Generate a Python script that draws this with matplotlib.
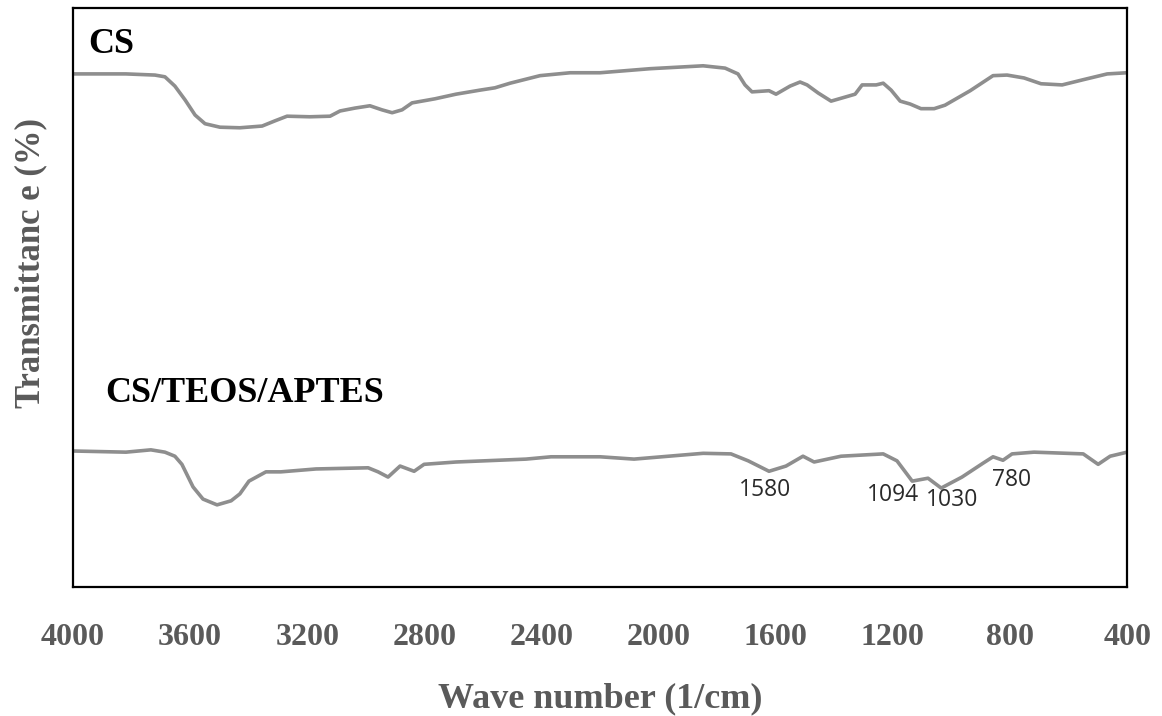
import matplotlib
matplotlib.use("Agg")
import matplotlib.pyplot as plt

# FTIR spectra (wavenumber in 1/cm, transmittance in arbitrary %)
cs_wn = [4000, 3819, 3720, 3686, 3652, 3617, 3583, 3549, 3498, 3430, 3354, 3310, 3269,
         3191, 3122, 3088, 3037, 2986, 2945, 2910, 2876, 2842, 2764, 2692, 2610, 2559,
         2507, 2405, 2302, 2200, 2029, 1848, 1773, 1729, 1705, 1681, 1623, 1599, 1551,
         1517, 1493, 1455, 1411, 1363, 1329, 1305, 1257, 1233, 1206, 1175, 1141, 1104,
         1059, 1022, 936, 858, 810, 752, 694, 622, 550, 468, 400]
cs_t = [88.6, 88.6, 88.4, 88.1, 86.5, 84.1, 81.5, 80.0, 79.4, 79.3, 79.6, 80.5, 81.3,
        81.2, 81.3, 82.2, 82.7, 83.1, 82.4, 81.9, 82.4, 83.6, 84.3, 85.1, 85.8, 86.2,
        87.0, 88.3, 88.8, 88.8, 89.5, 90.0, 89.6, 88.6, 86.7, 85.5, 85.7, 85.1, 86.5,
        87.2, 86.7, 85.3, 83.9, 84.6, 85.1, 86.7, 86.7, 87.0, 85.8, 83.9, 83.4, 82.6,
        82.6, 83.2, 85.7, 88.3, 88.4, 87.9, 86.9, 86.7, 87.6, 88.6, 88.8]

mix_wn = [4000, 3819, 3734, 3686, 3652, 3628, 3590, 3556, 3508, 3460, 3430, 3399, 3341,
          3290, 3170, 2992, 2958, 2924, 2883, 2835, 2801, 2692, 2453, 2367, 2200, 2084,
          1848, 1753, 1694, 1623, 1565, 1507, 1469, 1377, 1233, 1186, 1134, 1080, 1035,
          964, 892, 858, 824, 793, 718, 550, 499, 458, 400]
mix_t = [23.5, 23.3, 23.7, 23.3, 22.6, 21.2, 17.3, 15.2, 14.2, 14.9, 16.1, 18.3, 19.9,
         19.9, 20.4, 20.6, 19.9, 19.0, 20.9, 20.0, 21.2, 21.6, 22.1, 22.5, 22.5, 22.1,
         23.1, 23.0, 21.8, 20.0, 20.9, 22.6, 21.6, 22.6, 23.0, 21.8, 18.3, 18.8, 17.1,
         19.0, 21.4, 22.5, 21.9, 23.0, 23.3, 23.0, 21.2, 22.6, 23.3]

peak_labels = ["1580", "1094", "1030", "780"]
peak_pos = [(1636, 16.8), (1199, 15.9), (998, 15.0), (793, 18.5)]

xticks = [4000, 3600, 3200, 2800, 2400, 2000, 1600, 1200, 800, 400]

serif = "Liberation Serif"
gray = "#5a5a5a"
line_gray = "#8e8e8e"

fig = plt.figure(figsize=(11.62, 7.16), dpi=100)
ax = fig.add_axes([0.0628, 0.180, 0.9072, 0.809])

ax.plot(cs_wn, cs_t, color=line_gray, lw=2.6, solid_joinstyle="round")
ax.plot(mix_wn, mix_t, color=line_gray, lw=2.6, solid_joinstyle="round")

ax.set_xlim(4000, 400)
ax.set_ylim(0, 100)
ax.set_xticks(xticks)
ax.set_xticklabels([str(t) for t in xticks], fontfamily=serif, fontweight="bold",
                   fontsize=23, color=gray)
ax.set_yticks([])
ax.tick_params(axis="x", length=0, pad=26)
for s in ax.spines.values():
    s.set_linewidth(1.6)
    s.set_color("black")

ax.set_xlabel("Wave number (1/cm)", fontfamily=serif, fontweight="bold",
              fontsize=26, color=gray, labelpad=22)
ax.set_ylabel("Transmittanc e (%)", fontfamily=serif, fontweight="bold",
              fontsize=25, color=gray)
ax.yaxis.set_label_coords(-0.024, 0.56)

ax.text(3949, 93.6, "CS", fontfamily=serif, fontweight="bold", fontsize=26,
        va="center", ha="left")
ax.text(3891, 33.5, "CS/TEOS/APTES", fontfamily=serif, fontweight="bold",
        fontsize=26, va="center", ha="left")

for lab, (x, y) in zip(peak_labels, peak_pos):
    ax.text(x, y, lab, fontfamily="Open Sans", fontsize=16.5, color="#2a2a2a",
            ha="center", va="center")

fig.savefig("out.png", dpi=100)
